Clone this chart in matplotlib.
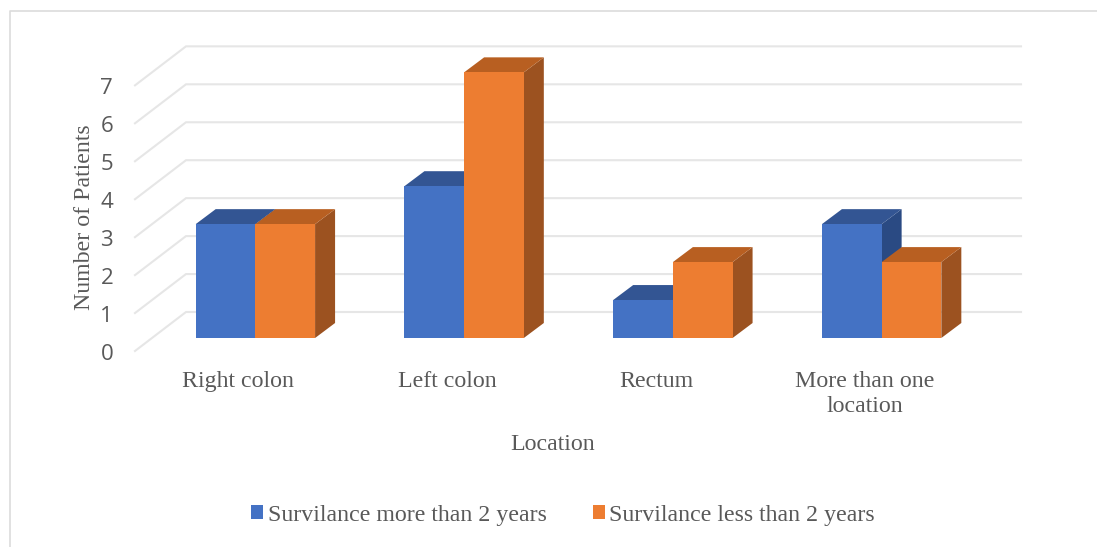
import matplotlib
matplotlib.use("Agg")
import matplotlib.pyplot as plt
from matplotlib.patches import Patch

categories = ["Right colon", "Left colon", "Rectum", "More than one\nlocation"]
series_more = [3, 4, 1, 3]
series_less = [3, 7, 2, 2]
name_more = "Survilance more than 2 years"
name_less = "Survilance less than 2 years"
y_ticks = [0, 1, 2, 3, 4, 5, 6, 7]

W, H = 1097, 547
fig = plt.figure(figsize=(W / 100, H / 100), dpi=100, facecolor="white")


def axes_px(left, right, y0, unit):
    a = fig.add_axes([left / W, 1 - y0 / H, (right - left) / W, 7 * unit / H])
    a.set_xlim(-0.5, 3.5)
    a.set_ylim(0, 7)
    a.patch.set_alpha(0)
    for s in a.spines.values():
        s.set_visible(False)
    return a


UNIT = 37.95
CAT = 208.75
serif = "Liberation Serif"
txt = "#595959"
grid = "#e6e6e6"
FS = 17.2

# front plane: tick labels and categories
front = axes_px(134, 969, 351.5, UNIT)
# plane of the bars
ax = axes_px(151, 986, 338, UNIT)

# gridlines: front edge to back wall, then along the back wall
bx, by = 35 / CAT, 26 / UNIT  # bar plane -> back wall
fx, fy = -16 / CAT, -13 / UNIT  # bar plane -> front edge
for v in y_ticks:
    ax.plot([-0.5 + fx, -0.5 + bx, 3.5 + bx], [v + fy, v + by, v + by],
            color=grid, lw=1.5, clip_on=False, zorder=1, solid_joinstyle="miter")

# bars
BW = 59.7 / CAT
dx, dy = 20 / CAT, 15 / UNIT
styles = [("#4472C4", "#335593", "#2A4A83"), ("#ED7D31", "#B85F21", "#9C5220")]
for offs, vals, (c_front, c_top, c_side) in zip((-BW, 0), (series_more, series_less), styles):
    for i, v in enumerate(vals):
        x0 = i + offs
        x1 = x0 + BW
        ax.fill([x1, x1 + dx, x1 + dx, x1], [0, dy, v + dy, v], color=c_side, lw=0, zorder=3, clip_on=False)
        ax.fill([x0, x1, x1 + dx, x0 + dx], [v, v, v + dy, v + dy], color=c_top, lw=0, zorder=3, clip_on=False)
        ax.bar(x0, v, BW, align="edge", color=c_front, lw=0, zorder=4, clip_on=False)
ax.set_xticks([])
ax.set_yticks([])

front.set_yticks(y_ticks)
front.set_yticklabels([str(v) for v in y_ticks], family="Open Sans", fontsize=16, color=txt)
front.tick_params(axis="y", length=0, pad=15)
front.set_xticks(range(4))
front.set_xticklabels(categories, family=serif, fontsize=FS, color=txt, linespacing=1.23)
front.tick_params(axis="x", length=0, pad=14)

fig.text(553 / W, 1 - 444 / H, "Location", family=serif, fontsize=FS, color=txt, ha="center", va="center")
fig.text(84 / W, 1 - 217 / H, "Number of Patients", family=serif, fontsize=FS, color=txt,
         rotation=90, ha="center", va="center")

handles = [Patch(color=styles[0][0], lw=0), Patch(color=styles[1][0], lw=0)]
fig.legend(handles, [name_more, name_less], ncol=2, loc="center", bbox_to_anchor=(563 / W, 1 - 515 / H),
           frameon=False, prop={"family": serif, "size": FS}, labelcolor=txt,
           handlelength=0.52, handleheight=0.52, handletextpad=0.18, columnspacing=1.93)

# chart border
fig.add_artist(plt.Line2D([10 / W, 10 / W, 1], [0, 1 - 10.5 / H, 1 - 10.5 / H],
                          color="#dcdcdc", lw=1.2))

fig.savefig("out.png", dpi=100, facecolor="white")
